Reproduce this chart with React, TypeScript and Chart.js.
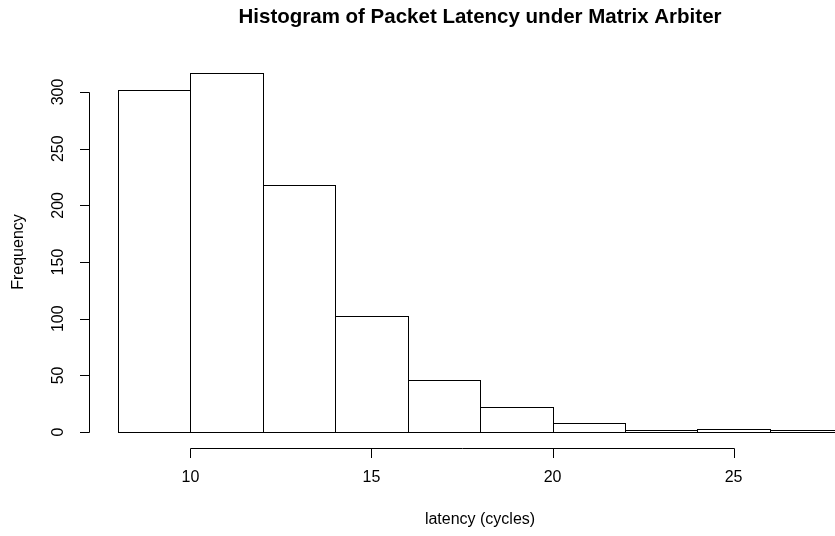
import React, { useEffect, useRef } from "react";
import { Chart, registerables } from "chart.js";

Chart.register(...registerables);

const binEdges = [8, 10, 12, 14, 16, 18, 20, 22, 24, 26, 28];
const counts = [302, 317, 218, 102, 46, 22, 8, 2, 3, 2];
const yTicks = [0, 50, 100, 150, 200, 250, 300];
const xTicks = [10, 15, 20, 25];
const titleText = "Histogram of Packet Latency under Matrix Arbiter";
const xLabelText = "latency (cycles)";
const yLabelText = "Frequency";

const FONT = "'Liberation Sans', Arial, sans-serif";

const rPlugin = {
  id: "rStyle",
  afterDatasetsDraw(chart: any) {
    const ctx = chart.ctx;
    const meta = chart.getDatasetMeta(0);
    ctx.save();
    ctx.beginPath();
    ctx.rect(chart.chartArea.left, 0, chart.width, chart.height);
    ctx.clip();
    ctx.strokeStyle = "#000";
    ctx.lineWidth = 1;
    meta.data.forEach((el: any) => {
      const p = el.getProps(["x", "y", "base", "width"], true);
      const l = Math.round(p.x - p.width / 2) + 0.5;
      const r = Math.round(p.x + p.width / 2) + 0.5;
      const t = Math.round(p.y) + 0.5;
      const b = Math.round(p.base) + 0.5;
      ctx.strokeRect(l, t, r - l, b - t);
    });
    ctx.restore();
  },
  afterDraw(chart: any) {
    const ctx = chart.ctx;
    const xs = chart.scales.x;
    const ys = chart.scales.y;
    const area = chart.chartArea;
    const tick = 9.5;
    ctx.save();
    ctx.strokeStyle = "#000";
    ctx.fillStyle = "#000";
    ctx.lineWidth = 1;

    // y axis
    const ax = Math.round(area.left) + 0.5;
    const y0 = Math.round(ys.getPixelForValue(yTicks[0])) + 0.5;
    const y1 = Math.round(ys.getPixelForValue(yTicks[yTicks.length - 1])) + 0.5;
    ctx.beginPath();
    ctx.moveTo(ax, y0);
    ctx.lineTo(ax, y1);
    yTicks.forEach((v) => {
      const py = Math.round(ys.getPixelForValue(v)) + 0.5;
      ctx.moveTo(ax, py);
      ctx.lineTo(ax - tick, py);
    });
    ctx.stroke();
    ctx.font = `16px ${FONT}`;
    ctx.textAlign = "center";
    ctx.textBaseline = "middle";
    yTicks.forEach((v) => {
      const py = ys.getPixelForValue(v);
      ctx.save();
      ctx.translate(area.left - 30, py);
      ctx.rotate(-Math.PI / 2);
      ctx.fillText(String(v), 0, 0);
      ctx.restore();
    });

    // x axis
    const ay = Math.round(area.bottom) + 0.5;
    const x0 = Math.round(xs.getPixelForValue(xTicks[0])) + 0.5;
    const x1 = Math.round(xs.getPixelForValue(xTicks[xTicks.length - 1])) + 0.5;
    ctx.beginPath();
    ctx.moveTo(x0, ay);
    ctx.lineTo(x1, ay);
    xTicks.forEach((v) => {
      const px = Math.round(xs.getPixelForValue(v)) + 0.5;
      ctx.moveTo(px, ay);
      ctx.lineTo(px, ay + tick);
    });
    ctx.stroke();
    xTicks.forEach((v) => {
      ctx.fillText(String(v), xs.getPixelForValue(v), area.bottom + 30);
    });

    // labels
    const cx = 480;
    ctx.fillText(xLabelText, cx, 520);
    ctx.save();
    ctx.translate(19, 252);
    ctx.rotate(-Math.PI / 2);
    ctx.fillText(yLabelText, 0, 0);
    ctx.restore();

    ctx.font = `bold 20.5px ${FONT}`;
    ctx.fillText(titleText, cx, 17.5);
    ctx.restore();
  },
};

export default function App() {
  const ref = useRef<HTMLCanvasElement | null>(null);
  useEffect(() => {
    if (!ref.current) return;
    const data = counts.map((c, i) => ({ x: (binEdges[i] + binEdges[i + 1]) / 2, y: c }));
    const chart = new Chart(ref.current, {
      type: "bar",
      data: {
        datasets: [
          {
            data,
            backgroundColor: "#ffffff",
            borderWidth: 0,
            barPercentage: 1,
            categoryPercentage: 1,
          },
        ],
      },
      options: {
        animation: false,
        responsive: false,
        devicePixelRatio: 1,
        layout: { padding: { left: 89, right: 0, top: 58, bottom: 88 } },
        plugins: { legend: { display: false }, tooltip: { enabled: false }, title: { display: false } },
        scales: {
          x: { type: "linear", min: 7.2, max: 27.8, display: false, offset: false },
          y: { type: "linear", min: -14, max: 330, display: false },
        },
      },
      plugins: [rPlugin],
    });
    return () => chart.destroy();
  }, []);
  return (
    <div style={{ position: "fixed", left: 0, top: 0, width: 835, height: 536, background: "#fff", overflow: "hidden" }}>
      <canvas ref={ref} width={835} height={536} style={{ width: 835, height: 536, display: "block" }} />
    </div>
  );
}
